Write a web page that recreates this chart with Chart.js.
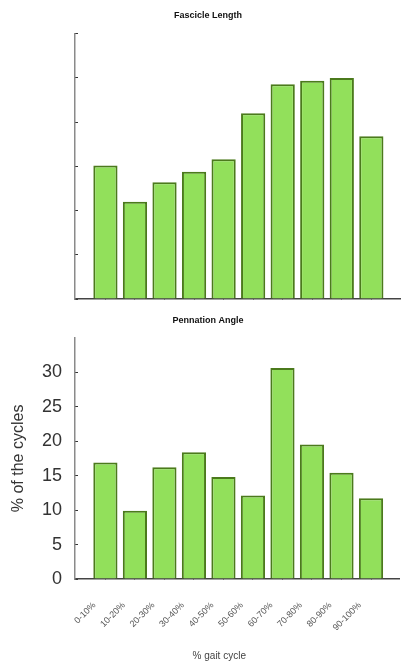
<!DOCTYPE html>
<html>
<head>
<meta charset="utf-8">
<script src="https://cdn.jsdelivr.net/npm/chart.js@4"></script>
<style>
  body { margin: 0; background: #fff; }
  .box { position: absolute; left: 0; width: 404px; }
  #top { top: 0; height: 308px; }
  #bottom { top: 308px; height: 358px; }
</style>
</head>
<body>
<div class="box" id="top"><canvas id="fascicleChart"></canvas></div>
<div class="box" id="bottom"><canvas id="pennationChart"></canvas></div>
<script>
// Les donnees
const categories = ["0-10%", "10-20%", "20-30%", "30-40%", "40-50%", "50-60%", "60-70%", "70-80%", "80-90%", "90-100%"];
const fascicleLength = [15.1, 11.0, 13.2, 14.4, 15.8, 21.0, 24.3, 24.7, 25.0, 18.4];
const pennationAngle = [16.9, 9.9, 16.2, 18.4, 14.8, 12.1, 30.6, 19.5, 15.4, 11.7];
const yTicks = [0, 5, 10, 15, 20, 25, 30];

const fillColor = "#92e05b";
const edgeColor = "#4b7a1c";
const font = "'Liberation Sans', Arial, sans-serif";

function toPoints(values) {
    return values.map((v, i) => ({ x: i, y: v }));
}

function makeChart(canvasId, title, values, opts) {
    const ctx = document.getElementById(canvasId).getContext("2d");
    return new Chart(ctx, {
        type: "bar",
        data: {
            datasets: [{
                data: toPoints(values),
                backgroundColor: fillColor,
                borderColor: edgeColor,
                borderWidth: 2,
                barPercentage: 0.82,
                categoryPercentage: 1
            }]
        },
        options: {
            responsive: true,
            maintainAspectRatio: false,
            animation: false,
            layout: { padding: { left: 16, right: 4, top: 0, bottom: 0 } },
            plugins: {
                legend: { display: false },
                tooltip: { enabled: false },
                title: {
                    display: true,
                    text: title,
                    color: "#111",
                    font: { family: font, size: 9, weight: "bold" },
                    padding: { top: opts.titleTop, bottom: opts.titleBottom }
                }
            },
            scales: {
                x: {
                    type: "linear",
                    bounds: "data",
                    offset: false,
                    min: -1.03,
                    max: 9.97,
                    afterBuildTicks: axis => {
                        axis.ticks = categories.map((c, i) => ({ value: i }));
                    },
                    afterFit: axis => { axis.height = opts.xHeight; },
                    grid: {
                        display: true,
                        offset: false,
                        drawOnChartArea: false,
                        drawTicks: true,
                        tickLength: -4,
                        tickWidth: 1,
                        tickColor: "#333"
                    },
                    border: { display: true, color: "#444", width: 1.5 },
                    ticks: {
                        display: opts.showX,
                        autoSkip: false,
                        maxRotation: 45,
                        minRotation: 45,
                        padding: 25,
                        labelOffset: -11,
                        color: "#555",
                        font: { family: font, size: 9 },
                        callback: v => categories[v]
                    },
                    title: {
                        display: opts.showX,
                        text: "% gait cycle" + "             ",
                        color: "#444",
                        font: { family: font, size: 10 },
                        align: "center"
                    }
                },
                y: {
                    min: 0,
                    max: opts.yMax,
                    afterBuildTicks: axis => {
                        axis.ticks = yTicks.map(v => ({ value: v }));
                    },
                    afterFit: axis => { axis.width = 59; },
                    grid: {
                        display: true,
                        drawOnChartArea: false,
                        drawTicks: true,
                        tickLength: -3,
                        tickColor: "#333"
                    },
                    border: { display: true, color: "#8a8a8a", width: 1.5 },
                    ticks: {
                        display: opts.showY,
                        padding: 16,
                        color: "#333",
                        font: { family: font, size: 18 }
                    },
                    title: {
                        display: opts.showY,
                        text: "% of the cycles",
                        color: "#333",
                        font: { family: font, size: 16 },
                        padding: { top: -7, bottom: 0 }
                    }
                }
            }
        }
    });
}

makeChart("fascicleChart", "Fascicle Length", fascicleLength, {
    yMax: 30, showX: false, showY: false, titleTop: 10, titleBottom: 13, xHeight: 9
});
makeChart("pennationChart", "Pennation Angle", pennationAngle, {
    yMax: 35, showX: true, showY: true, titleTop: 7, titleBottom: 12, xHeight: 87
});
</script>
</body>
</html>
